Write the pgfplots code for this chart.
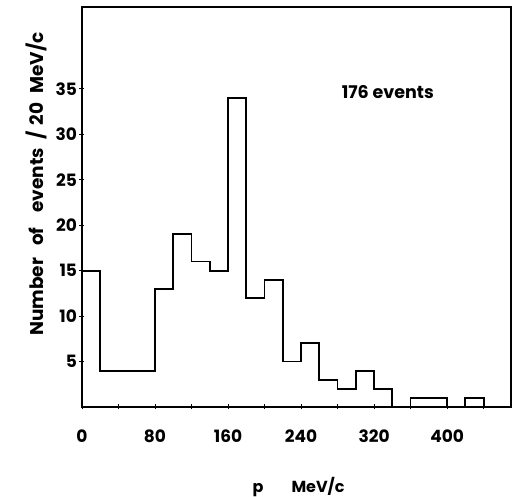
\documentclass[border=0pt]{standalone}
\usepackage{fontspec}
\setmainfont{Poppins}
\usepackage{pgfplots}
\pgfplotsset{compat=1.18}
\begin{document}
\begin{tikzpicture}
\begin{axis}[
  at={(0,0)}, anchor=south west,
  scale only axis, width=429pt, height=400pt,
  xmin=0, xmax=470, ymin=0, ymax=44,
  axis line style={line width=1.1pt},
  xtick={0,40,...,440},
  xticklabels={0,,80,,160,,240,,320,,400,},
  ytick={5,10,...,35},
  tick align=center,
  major tick length=5pt,
  tick style={line width=0.9pt, black},
  xtick pos=bottom, ytick pos=left,
  /pgf/number format/assume math mode=true,
  tick label style={font=\fontsize{17}{19}\selectfont\bfseries},
  xticklabel style={yshift=-17pt},
  yticklabel style={xshift=1pt},
  xlabel={p\hspace{28pt}MeV/c},
  ylabel={Number\hspace{12pt}of\hspace{15pt}events\hspace{8pt}/\hspace{6pt}20\hspace{9pt}MeV/c},
  xlabel style={font=\fontsize{16}{18}\selectfont\bfseries, at={(rel axis cs:0.505,-0.2)}, anchor=center},
  ylabel style={font=\fontsize{18.5}{21}\selectfont\bfseries, at={(rel axis cs:-0.107,0.5575)}, anchor=center},
]
\addplot[const plot mark left, line width=1.8pt, black] coordinates {
(0,15) (20,4) (40,4) (60,4) (80,13) (100,19) (120,16) (140,15) (160,34)
(180,12) (200,14) (220,5) (240,7) (260,3) (280,2) (300,4) (320,2)
(340,0) (360,1) (380,1) (400,0) (420,1) (440,0)
};
\node[font=\fontsize{17.5}{19}\selectfont\bfseries] at (axis cs:335,34.6) {176 events};
\end{axis}
\pgfresetboundingbox
\path[use as bounding box] (-82pt,-90pt) rectangle (433pt,407pt);
\end{tikzpicture}
\end{document}
